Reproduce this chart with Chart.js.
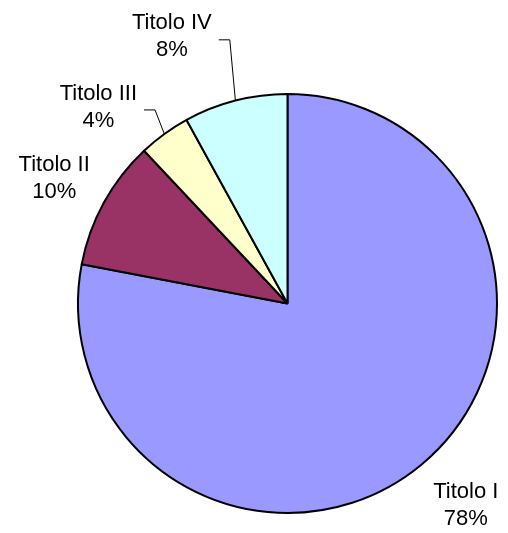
<!DOCTYPE html>
<html>
<head>
<meta charset="utf-8">
<script src="https://cdn.jsdelivr.net/npm/chart.js@4/dist/chart.umd.min.js"></script>
<style>
  html, body { margin: 0; padding: 0; background: #fff; }
  #wrap { width: 508px; height: 533px; }
</style>
</head>
<body>
<div id="wrap"><canvas id="pie"></canvas></div>
<script>
// dati del grafico
const categories = ['Titolo I', 'Titolo II', 'Titolo III', 'Titolo IV'];
const percentages = [78, 10, 4, 8];
const sliceColors = ['#9999FF', '#993366', '#FFFFCC', '#CCFFFF'];

// etichette esterne stile Excel (spostamenti e linee guida)
const labelPlugin = {
  id: 'outerLabels',
  afterDatasetsDraw(chart, args, opts) {
    const ctx = chart.ctx;
    const meta = chart.getDatasetMeta(0);
    ctx.save();
    ctx.font = '22px "Liberation Sans", Arial, sans-serif';
    ctx.fillStyle = '#000';
    ctx.textAlign = 'center';
    ctx.textBaseline = 'middle';
    meta.data.forEach((arc, i) => {
      const p = arc.getProps(['x', 'y', 'startAngle', 'endAngle', 'outerRadius'], true);
      const mid = (p.startAngle + p.endAngle) / 2;
      const dist = p.outerRadius * opts.distance;
      const off = opts.offsets[i];
      const lx = p.x + Math.cos(mid) * dist + off[0];
      const ly = p.y + Math.sin(mid) * dist + off[1];
      const lines = [categories[i], percentages[i] + '%'];
      const lh = 27;
      lines.forEach((t, k) => ctx.fillText(t, lx, ly + (k - 0.5) * lh));
      if (opts.leaders[i]) {
        const w = Math.max(...lines.map(t => ctx.measureText(t).width));
        const right = lx + w / 2;
        const ax = p.x + Math.cos(mid) * p.outerRadius;
        const ay = p.y + Math.sin(mid) * p.outerRadius;
        ctx.beginPath();
        ctx.strokeStyle = '#000';
        ctx.lineWidth = 1;
        ctx.moveTo(ax, ay);
        ctx.lineTo(right + 18, ly + 3);
        ctx.lineTo(right + 7, ly + 3);
        ctx.stroke();
      }
    });
    ctx.restore();
  }
};

new Chart(document.getElementById('pie'), {
  type: 'pie',
  data: {
    labels: categories,
    datasets: [{
      data: percentages,
      backgroundColor: sliceColors,
      borderColor: '#000',
      borderWidth: 2
    }]
  },
  options: {
    responsive: true,
    maintainAspectRatio: false,
    animation: false,
    layout: { padding: { left: 77, right: 10, top: 93, bottom: 19 } },
    plugins: {
      legend: { display: false },
      tooltip: { enabled: false },
      outerLabels: {
        distance: 1.26,
        offsets: [[10, -1], [-2, 2], [-34, 17], [-50, -11]],
        leaders: [false, false, true, true]
      }
    }
  },
  plugins: [labelPlugin]
});
</script>
</body>
</html>
